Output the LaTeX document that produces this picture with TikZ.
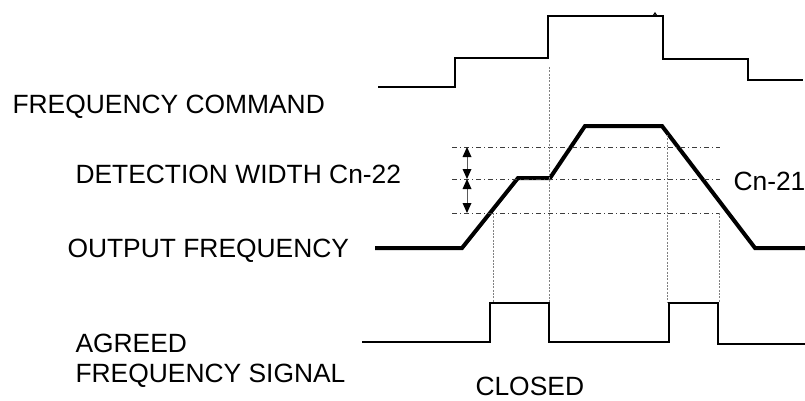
\documentclass[tikz,border=0pt]{standalone}
\usepackage{fontspec}
\setmainfont{Liberation Sans}
\tikzset{every picture/.style={line width=0.75pt}}
\tikzset{
  guide/.style={color={rgb, 255:red, 128; green, 128; blue, 128 }, line width=0.4, dash pattern=on 1.5pt off 1pt},
  level/.style={color={rgb, 255:red, 60; green, 60; blue, 60 }, line width=0.5, dash pattern=on 4pt off 2pt on 1pt off 2pt},
  lbl/.style={anchor=base west, inner sep=0pt, font=\fontsize{19.8}{24}\selectfont}
}

\begin{document}
\begin{tikzpicture}[x=0.75pt,y=0.75pt,yscale=-1,xscale=1]
\useasboundingbox (0,0) rectangle (805,400);

%Shape: Frequency command steps
\draw  [line width=1.3]  (378,87) -- (455,87) -- (455,58) -- (548,58) -- (548,16) -- (663,16) -- (663,59) -- (748,59) -- (748,80) -- (803,80) ;
\draw  [line width=0.9]  (653,16) -- (655,13) -- (657,16) ;
%Shape: Output frequency
\draw  [line width=3]  (375,248) -- (462,248) -- (518,178) -- (550,178) -- (585,126) -- (662,126) -- (755,248) -- (805,248) ;
%Shape: Agreed frequency signal
\draw  [line width=1.3]  (362,342) -- (490,342) -- (490,303) -- (549,303) -- (549,342) -- (669,342) -- (669,303) -- (718,303) -- (718,344) -- (805,344) ;

%Straight Lines: detection levels
\draw [level]  (452,147) -- (720,147) ;
\draw [level]  (452,179) -- (720,179) ;
\draw [level]  (452,213) -- (720,213) ;

%Straight Lines: timing guides
\draw [guide]  (493,213) -- (493,303) ;
\draw [guide]  (549,67) -- (549,303) ;
\draw [guide]  (667,135) -- (667,303) ;
\draw [guide]  (719,213) -- (719,303) ;

%Straight Lines: detection width arrows
\draw [color={rgb, 255:red, 90; green, 90; blue, 90 }  ,draw opacity=1 ][line width=0.6]   (467,155) -- (467,171) ;
\draw [shift={(467,147)}, rotate = 90] [fill=black ,fill opacity=1 ][line width=0.08]  [draw opacity=0] (10,-4.5) -- (0,0) -- (10,4.5) -- cycle    ;
\draw [shift={(467,179)}, rotate = -90] [fill=black ,fill opacity=1 ][line width=0.08]  [draw opacity=0] (10,-4.5) -- (0,0) -- (10,4.5) -- cycle    ;
\draw [color={rgb, 255:red, 90; green, 90; blue, 90 }  ,draw opacity=1 ][line width=0.6]   (467,187) -- (467,205) ;
\draw [shift={(467,179)}, rotate = 90] [fill=black ,fill opacity=1 ][line width=0.08]  [draw opacity=0] (10,-4.5) -- (0,0) -- (10,4.5) -- cycle    ;
\draw [shift={(467,213)}, rotate = -90] [fill=black ,fill opacity=1 ][line width=0.08]  [draw opacity=0] (10,-4.5) -- (0,0) -- (10,4.5) -- cycle    ;

% Text Node
\draw (12,113) node [lbl] (cmd) {FREQUENCY COMMAND};
% Text Node
\draw (75,183) node [lbl] (width) {DETECTION WIDTH Cn-22};
% Text Node
\draw (733,190) node [lbl] (level) {Cn-21};
% Text Node
\draw (67,257) node [lbl] (out) {OUTPUT FREQUENCY};
% Text Node
\draw (75,352) node [lbl] (agreed) {AGREED};
% Text Node
\draw (75,382) node [lbl] (signal) {FREQUENCY SIGNAL};
% Text Node
\draw (475,395) node [lbl] (closed) {CLOSED};

\end{tikzpicture}
\end{document}
